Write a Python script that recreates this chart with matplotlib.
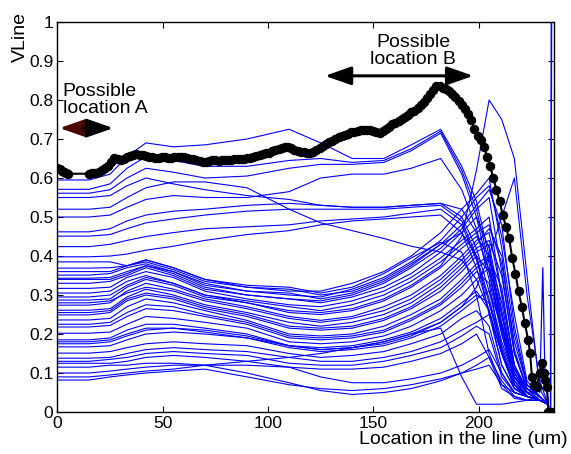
import matplotlib
matplotlib.use("Agg")
import matplotlib.pyplot as plt

plt.rcParams["font.family"] = ["Liberation Sans", "DejaVu Sans"]

# sample locations (um) shared by all blue traces
x_grid = [0, 15, 25, 33, 42, 55, 70, 90, 110, 125, 140, 155, 168, 182, 192, 199, 205, 211, 217, 223, 229, 233]

# upper traces (start 0.4 - 0.6)
upper_lines = [
    [0.595, 0.595, 0.61, 0.655, 0.69, 0.68, 0.685, 0.70, 0.725, 0.69, 0.65, 0.65, 0.685, 0.725, 0.63, 0.54, 0.40, 0.25, 0.12, 0.06, 0.04, 0.02],
    [0.571, 0.571, 0.585, 0.625, 0.655, 0.645, 0.63, 0.63, 0.645, 0.65, 0.64, 0.645, 0.675, 0.72, 0.62, 0.52, 0.38, 0.23, 0.11, 0.06, 0.04, 0.02],
    [0.561, 0.561, 0.57, 0.60, 0.625, 0.615, 0.60, 0.605, 0.625, 0.635, 0.635, 0.64, 0.67, 0.715, 0.61, 0.50, 0.36, 0.21, 0.10, 0.05, 0.03, 0.02],
    [0.55, 0.55, 0.555, 0.58, 0.60, 0.585, 0.57, 0.555, 0.545, 0.53, 0.525, 0.525, 0.53, 0.535, 0.52, 0.46, 0.36, 0.22, 0.11, 0.05, 0.03, 0.02],
    [0.50, 0.50, 0.505, 0.525, 0.545, 0.555, 0.55, 0.55, 0.565, 0.60, 0.61, 0.61, 0.625, 0.65, 0.57, 0.47, 0.34, 0.20, 0.09, 0.05, 0.03, 0.02],
    [0.462, 0.462, 0.47, 0.49, 0.505, 0.515, 0.52, 0.53, 0.535, 0.53, 0.525, 0.525, 0.53, 0.535, 0.50, 0.42, 0.31, 0.18, 0.09, 0.05, 0.03, 0.02],
    [0.451, 0.451, 0.455, 0.47, 0.485, 0.495, 0.505, 0.515, 0.52, 0.52, 0.52, 0.52, 0.525, 0.53, 0.49, 0.40, 0.29, 0.17, 0.08, 0.04, 0.03, 0.02],
    [0.424, 0.424, 0.43, 0.44, 0.45, 0.46, 0.47, 0.475, 0.48, 0.49, 0.495, 0.50, 0.51, 0.52, 0.48, 0.39, 0.28, 0.16, 0.07, 0.04, 0.03, 0.02],
    [0.398, 0.398, 0.40, 0.405, 0.415, 0.425, 0.44, 0.455, 0.465, 0.48, 0.49, 0.495, 0.50, 0.505, 0.46, 0.37, 0.26, 0.15, 0.07, 0.04, 0.03, 0.02],
    [0.52, 0.52, 0.525, 0.55, 0.575, 0.59, 0.59, 0.575, 0.52, 0.485, 0.465, 0.445, 0.425, 0.41, 0.39, 0.34, 0.26, 0.15, 0.07, 0.04, 0.03, 0.02],
]

# dense middle bundle (start 0.28 - 0.39)
middle_lines = [
    [0.385, 0.385, 0.385, 0.375, 0.39, 0.37, 0.34, 0.32, 0.315, 0.30, 0.31, 0.34, 0.38, 0.43, 0.46, 0.40, 0.25, 0.12, 0.06, 0.05, 0.03, 0.02],
    [0.369, 0.369, 0.37, 0.375, 0.385, 0.365, 0.335, 0.32, 0.31, 0.31, 0.33, 0.36, 0.40, 0.46, 0.52, 0.56, 0.60, 0.42, 0.20, 0.07, 0.04, 0.02],
    [0.36, 0.36, 0.36, 0.375, 0.39, 0.37, 0.34, 0.325, 0.32, 0.305, 0.32, 0.355, 0.395, 0.435, 0.41, 0.30, 0.15, 0.07, 0.05, 0.04, 0.03, 0.02],
    [0.351, 0.351, 0.355, 0.37, 0.38, 0.36, 0.33, 0.31, 0.30, 0.295, 0.315, 0.345, 0.385, 0.44, 0.50, 0.55, 0.58, 0.45, 0.25, 0.08, 0.04, 0.02],
    [0.343, 0.343, 0.345, 0.36, 0.375, 0.355, 0.32, 0.30, 0.29, 0.285, 0.30, 0.33, 0.37, 0.42, 0.47, 0.52, 0.55, 0.36, 0.15, 0.06, 0.04, 0.02],
    [0.34, 0.34, 0.34, 0.355, 0.375, 0.36, 0.325, 0.31, 0.305, 0.29, 0.305, 0.335, 0.375, 0.43, 0.48, 0.53, 0.57, 0.48, 0.22, 0.07, 0.04, 0.02],
    [0.33, 0.33, 0.335, 0.35, 0.37, 0.35, 0.315, 0.30, 0.29, 0.28, 0.295, 0.32, 0.355, 0.41, 0.46, 0.50, 0.42, 0.22, 0.09, 0.05, 0.03, 0.02],
    [0.317, 0.317, 0.32, 0.345, 0.36, 0.345, 0.31, 0.29, 0.275, 0.27, 0.285, 0.31, 0.345, 0.395, 0.44, 0.47, 0.50, 0.30, 0.12, 0.05, 0.03, 0.02],
    [0.305, 0.305, 0.31, 0.335, 0.35, 0.33, 0.30, 0.285, 0.27, 0.26, 0.275, 0.30, 0.335, 0.385, 0.43, 0.46, 0.48, 0.38, 0.18, 0.07, 0.04, 0.02],
    [0.287, 0.287, 0.29, 0.32, 0.34, 0.325, 0.295, 0.28, 0.255, 0.25, 0.26, 0.285, 0.32, 0.37, 0.42, 0.45, 0.40, 0.22, 0.09, 0.05, 0.03, 0.02],
]

# lower bundle (start 0.2 - 0.28)
lower_lines = [
    [0.28, 0.28, 0.285, 0.305, 0.32, 0.31, 0.285, 0.265, 0.24, 0.23, 0.24, 0.26, 0.29, 0.34, 0.39, 0.43, 0.47, 0.40, 0.16, 0.06, 0.03, 0.02],
    [0.274, 0.274, 0.28, 0.31, 0.33, 0.315, 0.29, 0.27, 0.245, 0.235, 0.245, 0.27, 0.30, 0.35, 0.40, 0.44, 0.46, 0.30, 0.12, 0.05, 0.03, 0.02],
    [0.261, 0.261, 0.265, 0.295, 0.315, 0.30, 0.275, 0.255, 0.23, 0.22, 0.23, 0.25, 0.28, 0.33, 0.38, 0.42, 0.44, 0.35, 0.15, 0.06, 0.03, 0.02],
    [0.255, 0.255, 0.26, 0.29, 0.305, 0.295, 0.27, 0.25, 0.22, 0.215, 0.22, 0.24, 0.27, 0.32, 0.37, 0.41, 0.43, 0.26, 0.10, 0.05, 0.03, 0.02],
    [0.249, 0.249, 0.255, 0.285, 0.30, 0.29, 0.265, 0.245, 0.215, 0.21, 0.215, 0.235, 0.265, 0.31, 0.36, 0.40, 0.36, 0.20, 0.08, 0.04, 0.03, 0.02],
    [0.236, 0.236, 0.24, 0.27, 0.29, 0.28, 0.26, 0.235, 0.20, 0.195, 0.20, 0.22, 0.25, 0.29, 0.34, 0.38, 0.40, 0.28, 0.10, 0.05, 0.03, 0.02],
    [0.225, 0.225, 0.23, 0.255, 0.275, 0.27, 0.25, 0.23, 0.195, 0.19, 0.195, 0.21, 0.24, 0.28, 0.33, 0.37, 0.39, 0.32, 0.12, 0.05, 0.03, 0.02],
    [0.218, 0.218, 0.222, 0.245, 0.265, 0.26, 0.245, 0.225, 0.19, 0.185, 0.19, 0.205, 0.235, 0.275, 0.32, 0.36, 0.33, 0.15, 0.07, 0.04, 0.03, 0.02],
    [0.202, 0.202, 0.205, 0.225, 0.245, 0.24, 0.23, 0.215, 0.18, 0.175, 0.18, 0.195, 0.22, 0.26, 0.30, 0.34, 0.37, 0.25, 0.09, 0.04, 0.03, 0.02],
]

# bottom traces (start 0.08 - 0.19)
bottom_lines = [
    [0.185, 0.185, 0.19, 0.21, 0.225, 0.225, 0.215, 0.20, 0.17, 0.165, 0.17, 0.185, 0.205, 0.24, 0.28, 0.31, 0.26, 0.12, 0.06, 0.04, 0.03, 0.02],
    [0.175, 0.175, 0.18, 0.195, 0.21, 0.215, 0.21, 0.195, 0.17, 0.16, 0.165, 0.175, 0.195, 0.23, 0.27, 0.30, 0.28, 0.16, 0.07, 0.04, 0.03, 0.02],
    [0.167, 0.167, 0.17, 0.185, 0.20, 0.205, 0.20, 0.19, 0.165, 0.155, 0.16, 0.17, 0.19, 0.22, 0.26, 0.29, 0.31, 0.22, 0.08, 0.04, 0.03, 0.02],
    [0.151, 0.151, 0.155, 0.165, 0.175, 0.18, 0.175, 0.17, 0.15, 0.14, 0.145, 0.155, 0.175, 0.20, 0.24, 0.26, 0.22, 0.10, 0.05, 0.04, 0.03, 0.02],
    [0.138, 0.138, 0.14, 0.15, 0.16, 0.165, 0.16, 0.155, 0.14, 0.13, 0.13, 0.14, 0.155, 0.18, 0.21, 0.23, 0.25, 0.15, 0.06, 0.04, 0.03, 0.02],
    [0.13, 0.13, 0.135, 0.14, 0.15, 0.155, 0.15, 0.145, 0.125, 0.12, 0.12, 0.13, 0.145, 0.165, 0.195, 0.22, 0.20, 0.09, 0.05, 0.04, 0.03, 0.02],
    [0.125, 0.125, 0.125, 0.13, 0.14, 0.145, 0.14, 0.13, 0.115, 0.11, 0.11, 0.115, 0.13, 0.15, 0.175, 0.20, 0.14, 0.06, 0.04, 0.03, 0.03, 0.02],
    [0.115, 0.115, 0.12, 0.12, 0.125, 0.125, 0.12, 0.10, 0.075, 0.055, 0.045, 0.05, 0.06, 0.08, 0.10, 0.11, 0.12, 0.07, 0.035, 0.03, 0.03, 0.02],
    [0.10, 0.10, 0.105, 0.11, 0.115, 0.12, 0.12, 0.12, 0.115, 0.09, 0.075, 0.075, 0.085, 0.10, 0.12, 0.14, 0.16, 0.10, 0.05, 0.04, 0.03, 0.02],
    [0.09, 0.09, 0.095, 0.10, 0.105, 0.11, 0.12, 0.13, 0.14, 0.15, 0.165, 0.18, 0.20, 0.215, 0.09, 0.02, 0.02, 0.02, 0.025, 0.03, 0.04, 0.02],
    [0.082, 0.082, 0.09, 0.095, 0.10, 0.105, 0.11, 0.09, 0.07, 0.06, 0.055, 0.06, 0.07, 0.085, 0.10, 0.12, 0.14, 0.08, 0.04, 0.03, 0.03, 0.02],
]

# traces with the late, tall peaks on the right
tall_lines = [
    [0.295, 0.295, 0.30, 0.325, 0.345, 0.33, 0.30, 0.28, 0.26, 0.255, 0.265, 0.29, 0.325, 0.375, 0.45, 0.62, 0.80, 0.75, 0.65, 0.35, 0.06, 0.02],
    [0.18, 0.18, 0.185, 0.20, 0.215, 0.215, 0.205, 0.19, 0.17, 0.16, 0.165, 0.18, 0.20, 0.23, 0.27, 0.32, 0.40, 0.50, 0.60, 0.30, 0.08, 0.02],
]

# spikes at the far right end
spike_x = [224, 227, 229, 230.5, 231.5, 232.5, 233.5]
spike_y = [0.05, 0.08, 0.05, 0.37, 0.10, 0.06, 0.0]
edge_x = [233.5, 234.2, 234.6]
edge_y = [0.0, 0.0, 1.0]

# highlighted (black) trace, (location, VLine)
black_trace = [
    (0, 0.626), (1, 0.622), (2, 0.618), (3, 0.615), (4, 0.612), (5, 0.611),
    (15, 0.611), (16.5, 0.612), (18, 0.613), (19.5, 0.616), (21, 0.62), (22.5, 0.625),
    (24, 0.632), (25.5, 0.642), (27, 0.652), (28.5, 0.65), (30, 0.647), (31.5, 0.65),
    (33, 0.653), (34.5, 0.657), (36, 0.66), (37.5, 0.662), (39, 0.66), (40.5, 0.659),
    (42, 0.657), (43.5, 0.655), (45, 0.654), (46.5, 0.652), (48, 0.652), (49.5, 0.653),
    (51, 0.653), (52.5, 0.652), (54, 0.651), (55.5, 0.653), (57, 0.655), (58.5, 0.655),
    (60, 0.654), (61.5, 0.652), (63, 0.65), (64.5, 0.648), (66, 0.646), (67.5, 0.644),
    (69, 0.642), (70.5, 0.642), (72, 0.643), (73.5, 0.645), (75, 0.645), (76.5, 0.644),
    (78, 0.645), (79.5, 0.646), (81, 0.646), (82.5, 0.647), (84, 0.648), (85.5, 0.649),
    (87, 0.65), (88.5, 0.65), (90, 0.651), (91.5, 0.652), (93, 0.654), (94.5, 0.656),
    (96, 0.659), (97.5, 0.661), (99, 0.663), (100.5, 0.665), (102, 0.668), (103.5, 0.671),
    (105, 0.674), (106.5, 0.677), (108, 0.679), (109.5, 0.68), (111, 0.676), (112.5, 0.672),
    (114, 0.669), (115.5, 0.667), (117, 0.666), (118.5, 0.665), (120, 0.664), (121.5, 0.667),
    (123, 0.672), (124.5, 0.677), (126, 0.682), (127.5, 0.688), (129, 0.692), (130.5, 0.696),
    (132, 0.7), (133.5, 0.704), (135, 0.708), (136.5, 0.711), (138, 0.714), (139.5, 0.717),
    (141, 0.719), (142.5, 0.721), (144, 0.722), (145.5, 0.723), (147, 0.723), (148.5, 0.722),
    (150, 0.72), (151.5, 0.718), (153, 0.716), (154.5, 0.72), (156, 0.725), (157.5, 0.732),
    (159, 0.738), (160.5, 0.742), (162, 0.746), (163.5, 0.751), (165, 0.757), (166.5, 0.762),
    (168, 0.768), (169.5, 0.773), (171, 0.779), (172.5, 0.786), (174, 0.795), (175.5, 0.805),
    (177, 0.815), (178.5, 0.826), (180, 0.836), (181.5, 0.835), (183, 0.832), (184.5, 0.828),
    (186, 0.822), (187.5, 0.816), (189, 0.808), (190.5, 0.798), (192, 0.788), (193.5, 0.777),
    (195, 0.765), (196.5, 0.748), (198, 0.725), (199.5, 0.708), (201, 0.697), (202.5, 0.68),
    (204, 0.655), (205.5, 0.63), (207, 0.6), (208.5, 0.57), (210, 0.54), (211.5, 0.505),
    (213, 0.475), (214.5, 0.445), (216, 0.395), (217.5, 0.355), (219, 0.309), (220.5, 0.27),
    (222, 0.228), (223.5, 0.185), (224.5, 0.151), (225.3, 0.09), (226.5, 0.07), (227.6, 0.065),
    (229, 0.1), (230, 0.125), (231, 0.1), (231.6, 0.082), (232.4, 0.065), (233.2, 0.0),
    (234, 0.0), (235, 0.0),
]

y_ticks = [0, 0.1, 0.2, 0.3, 0.4, 0.5, 0.6, 0.7, 0.8, 0.9, 1]
y_tick_labels = ["0", "0.1", "0.2", "0.3", "0.4", "0.5", "0.6", "0.7", "0.8", "0.9", "1"]
x_ticks = [0, 50, 100, 150, 200]

fig = plt.figure(figsize=(5.71, 4.54), dpi=100)
ax = fig.add_axes([0.1007, 0.0925, 0.8687, 0.859])

for group in (upper_lines, middle_lines, lower_lines, bottom_lines, tall_lines):
    for ys in group:
        ax.plot(x_grid, ys, color="#0000ff", lw=0.8, zorder=2)
ax.plot(spike_x, spike_y, color="#0000ff", lw=0.9, zorder=2)
ax.plot(edge_x, edge_y, color="#0000ff", lw=1.2, zorder=2)

bx = [p[0] for p in black_trace]
by = [p[1] for p in black_trace]
ax.plot(bx, by, color="black", lw=1.5, marker="o", ms=5.8, zorder=3)

# annotations
ax.text(2.5, 0.80, "Possible\nlocation A", fontsize=14, ha="left", va="center", linespacing=1.0)
ax.annotate("", xy=(1.0, 0.728), xytext=(12.5, 0.728),
            arrowprops=dict(arrowstyle="-|>,head_length=0.8,head_width=0.28",
                            color="#4a0800", lw=2.2, mutation_scale=20, shrinkA=0, shrinkB=0))
ax.annotate("", xy=(26.5, 0.728), xytext=(12.0, 0.728),
            arrowprops=dict(arrowstyle="-|>,head_length=0.8,head_width=0.28",
                            color="black", lw=2.2, mutation_scale=20, shrinkA=0, shrinkB=0))
ax.text(169, 0.926, "Possible\nlocation B", fontsize=14, ha="center", va="center", linespacing=1.0)
ax.annotate("", xy=(127, 0.862), xytext=(197.5, 0.862),
            arrowprops=dict(arrowstyle="<|-|>,head_length=0.8,head_width=0.28",
                            color="black", lw=2.2, mutation_scale=20, shrinkA=0, shrinkB=0))

ax.set_xlim(0, 235.6)
ax.set_ylim(0, 1)
ax.set_xticks(x_ticks)
ax.set_xticklabels([str(t) for t in x_ticks])
ax.set_yticks(y_ticks)
ax.set_yticklabels(y_tick_labels)
ax.tick_params(direction="in", top=True, right=True, length=4, width=0.8, labelsize=12.5, pad=3)
for sp in ax.spines.values():
    sp.set_linewidth(1.0)

fig.text(20 / 571, 1 - 37 / 454, "VLine", rotation=90, fontsize=14, ha="center", va="center")
fig.text(568 / 571, 1 - 440 / 454, "Location in the line (um)", fontsize=14, ha="right", va="center")

fig.savefig("out.png", dpi=100)
plt.close(fig)
